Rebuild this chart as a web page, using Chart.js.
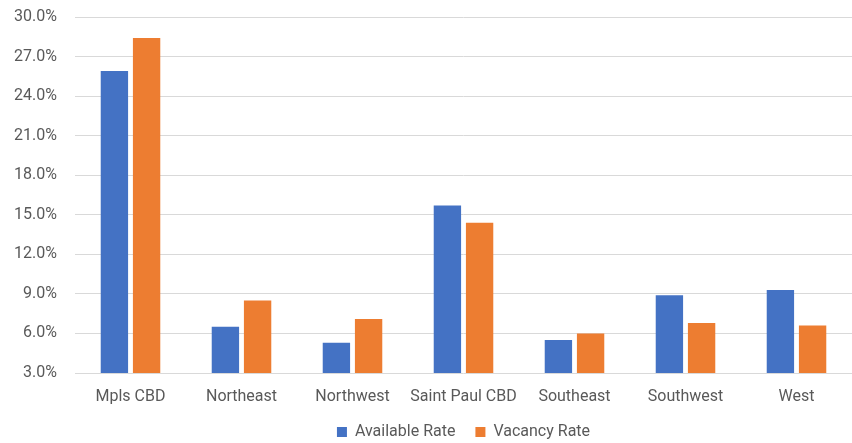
<!DOCTYPE html>
<html>
<head>
<meta charset="utf-8">
<script src="https://cdn.jsdelivr.net/npm/chart.js@4"></script>
<style>
  html, body { margin: 0; padding: 0; background: #fff; }
  #wrap { width: 852px; height: 443px; }
</style>
</head>
<body>
<div id="wrap"><canvas id="chart"></canvas></div>
<script>
const categories = ["Mpls CBD", "Northeast", "Northwest", "Saint Paul CBD", "Southeast", "Southwest", "West"];
const availableRate = [25.9, 6.5, 5.3, 15.7, 5.5, 8.9, 9.3];
const vacancyRate = [28.4, 8.5, 7.1, 14.4, 6.0, 6.8, 6.6];
const yMin = 3, yMax = 30, yStep = 3;

const font = { family: "Roboto, sans-serif", size: 16 };
const textColor = "#595959";

// shift legend so it centres on the plot area like Excel does
const legendShift = {
    id: "legendShift",
    afterLayout(chart) {
        const lg = chart.legend;
        if (!lg) return;
        const dx = (chart.chartArea.left + chart.chartArea.right) / 2 - (lg.left + lg.right) / 2;
        lg.left += dx;
        lg.right += dx;
        if (lg.legendHitBoxes) lg.legendHitBoxes.forEach(b => { b.left += dx; });
    }
};

new Chart(document.getElementById("chart").getContext("2d"), {
    type: "bar",
    data: {
        labels: categories,
        datasets: [
            { label: "Available Rate", data: availableRate, backgroundColor: "#4472C4" },
            { label: "Vacancy Rate", data: vacancyRate, backgroundColor: "#ED7D31" }
        ]
    },
    options: {
        responsive: true,
        maintainAspectRatio: false,
        animation: false,
        categoryPercentage: 0.58,
        barPercentage: 0.85,
        layout: { padding: { top: 0, right: 0, bottom: -7, left: 0 } },
        plugins: {
            legend: {
                position: "bottom",
                labels: {
                    boxWidth: 10,
                    boxHeight: 10,
                    padding: 20,
                    color: textColor,
                    font: font
                }
            },
            tooltip: { enabled: false }
        },
        scales: {
            x: {
                grid: { display: false },
                border: { display: false },
                ticks: { color: textColor, font: font, padding: 6, maxRotation: 0 },
                afterFit: scale => { scale.height = 31; }
            },
            y: {
                min: yMin,
                max: yMax,
                grid: { color: "#d9d9d9", lineWidth: 1, drawTicks: false },
                border: { display: false },
                ticks: {
                    stepSize: yStep,
                    color: textColor,
                    font: font,
                    padding: 18,
                    callback: v => v.toFixed(1) + "%"
                },
                afterFit: scale => {
                    scale.width = 75;
                    scale.paddingTop = 17;
                    scale.paddingBottom = 8;
                }
            }
        }
    },
    plugins: [legendShift]
});
</script>
</body>
</html>
